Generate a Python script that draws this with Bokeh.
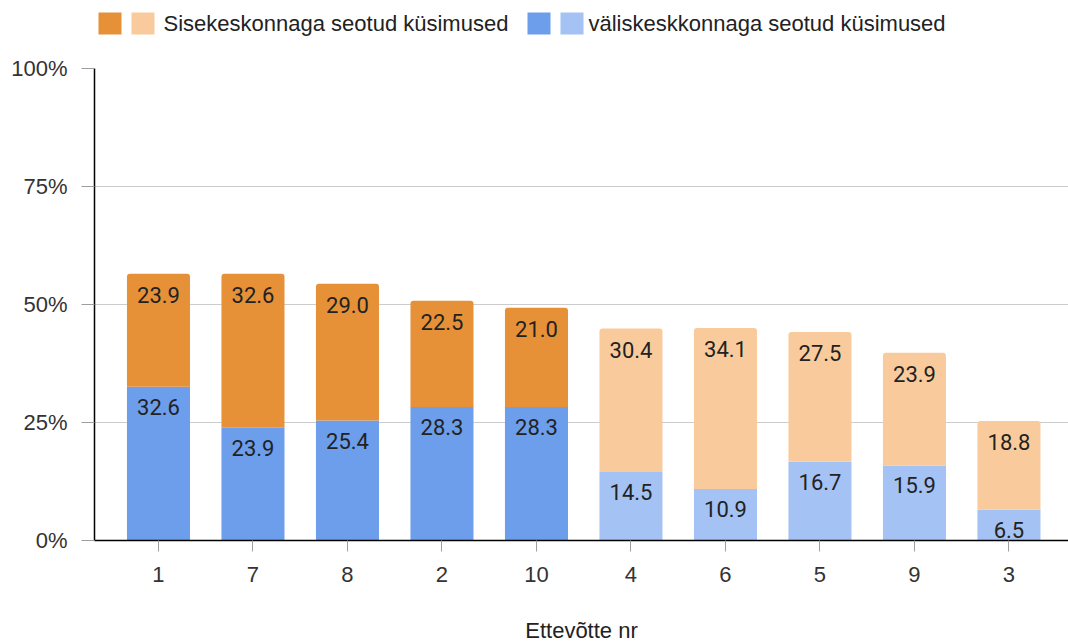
from bokeh.plotting import figure
from bokeh.layouts import column
from bokeh.models import Range1d, FixedTicker, PrintfTickFormatter, ColumnDataSource
from bokeh.core.properties import value
from bokeh.embed import file_html
from bokeh.resources import INLINE

# Company numbers (x axis), ordered by total share
companies = ["1", "7", "8", "2", "10", "4", "6", "5", "9", "3"]
# Share of questions about external communication (%)
valis = [32.6, 23.9, 25.4, 28.3, 28.3, 14.5, 10.9, 16.7, 15.9, 6.5]
# Share of questions about internal communication (%)
sise = [23.9, 32.6, 29.0, 22.5, 21.0, 30.4, 34.1, 27.5, 23.9, 18.8]
# First five companies use the saturated colours, the rest the pale ones
group = ["dark"] * 5 + ["light"] * 5

legend_labels = ["Sisekeskonnaga seotud küsimused", "väliskeskkonnaga seotud küsimused"]
x_title = "Ettevõtte nr"
y_ticks = [0, 25, 50, 75, 100]

ORANGE, ORANGE_L = "#e69138", "#f9cb9c"
BLUE, BLUE_L = "#6d9eeb", "#a4c2f4"
AXIS_FONT = "Liberation Sans"
LABEL_FONT = "Roboto"
LEFT = 94
W = 1068


def strip(height):
    """A blank, pixel-addressed band spanning the page width."""
    f = figure(width=W, height=height, x_range=Range1d(LEFT, W), y_range=Range1d(height, 0),
               toolbar_location=None, output_backend="svg",
               min_border_left=LEFT, min_border_right=0, min_border_top=0, min_border_bottom=0)
    f.axis.visible = False
    f.grid.visible = False
    f.outline_line_color = None
    return f


xs = list(range(len(companies)))
tops = [v + s for v, s in zip(valis, sise)]
src = ColumnDataSource(dict(
    x=xs,
    valis=valis,
    top=tops,
    valis_txt=[f"{v:.1f}" for v in valis],
    sise_txt=[f"{s:.1f}" for s in sise],
    c_valis=[BLUE if g == "dark" else BLUE_L for g in group],
    c_sise=[ORANGE if g == "dark" else ORANGE_L for g in group],
))

# ---- legend strip ----
leg = strip(50)
sw_left = [98, 131, 527, 560]
sw_col = [ORANGE, ORANGE_L, BLUE, BLUE_L]
leg.quad(left=sw_left, right=[l + 23 for l in sw_left], top=[12] * 4, bottom=[34] * 4,
         fill_color=sw_col, line_color=None)
leg.text(x=[163, 588], y=[23, 23], text=legend_labels, text_font=value(AXIS_FONT),
         text_font_size="22px", text_color="#222222", text_baseline="middle")

# ---- main chart ----
p = figure(width=W, height=560, x_range=Range1d(-0.677, 9.63), y_range=Range1d(0, 100),
           toolbar_location=None, output_backend="svg",
           min_border_left=LEFT, min_border_right=0, min_border_top=18, min_border_bottom=70)
p.outline_line_color = None

p.vbar(x="x", bottom=0, top="valis", width=0.667, source=src,
       fill_color="c_valis", line_color=None)
p.vbar(x="x", bottom="valis", top="top", width=0.667, source=src,
       fill_color="c_sise", line_color=None, border_radius=(3, 3, 0, 0))

p.text(x="x", y="valis", text="valis_txt", source=src, text_align="center",
       text_baseline="middle", y_offset=20, text_font=value(LABEL_FONT),
       text_font_size="22px", text_color="#222222")
p.text(x="x", y="top", text="sise_txt", source=src, text_align="center",
       text_baseline="middle", y_offset=21, text_font=value(LABEL_FONT),
       text_font_size="22px", text_color="#222222")

p.xgrid.visible = False
p.ygrid.ticker = FixedTicker(ticks=y_ticks)
p.ygrid.grid_line_color = "#cccccc"
p.ygrid.grid_line_width = 1

p.yaxis.ticker = FixedTicker(ticks=y_ticks)
p.yaxis.formatter = PrintfTickFormatter(format="%d%%")
p.yaxis.major_tick_in = 0
p.yaxis.major_tick_out = 13
p.yaxis.major_tick_line_color = "#9e9e9e"
p.yaxis.minor_tick_line_color = None
p.yaxis.axis_line_color = "#000000"
p.yaxis.axis_line_width = 1.5
p.yaxis.major_label_standoff = 14
p.yaxis.major_label_text_font = AXIS_FONT
p.yaxis.major_label_text_font_size = "22px"
p.yaxis.major_label_text_color = "#333333"

p.xaxis.ticker = FixedTicker(ticks=xs)
p.xaxis.major_label_overrides = {i: c for i, c in zip(xs, companies)}
p.xaxis.major_tick_in = 0
p.xaxis.major_tick_out = 11
p.xaxis.major_tick_line_color = "#9e9e9e"
p.xaxis.minor_tick_line_color = None
p.xaxis.axis_line_color = "#000000"
p.xaxis.axis_line_width = 1.5
p.xaxis.major_label_standoff = 15
p.xaxis.major_label_text_font = AXIS_FONT
p.xaxis.major_label_text_font_size = "22px"
p.xaxis.major_label_text_color = "#333333"

# ---- x-axis title strip ----
ttl = strip(32)
ttl.text(x=[(LEFT + W) / 2], y=[20], text=[x_title], text_font=value(AXIS_FONT),
         text_font_size="22px", text_color="#222222", text_align="center",
         text_baseline="middle")

layout = column(leg, p, ttl, spacing=0)
open("out.html", "w").write(file_html(layout, INLINE))
